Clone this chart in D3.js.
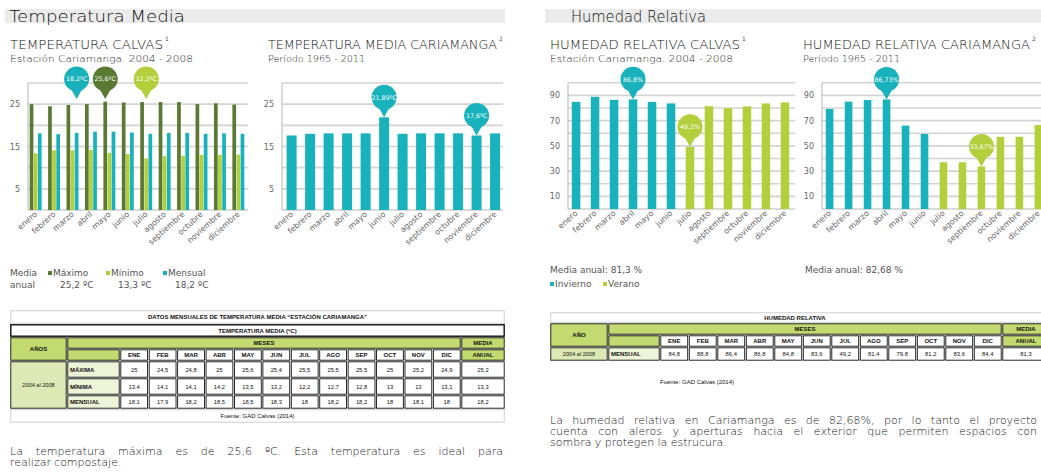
<!DOCTYPE html>
<html>
<head>
<meta charset="utf-8">
<script src="https://cdn.jsdelivr.net/npm/d3@7"></script>
<style>
  body { margin: 0; background: #fff; }
  svg { display: block; }
</style>
</head>
<body>
<svg id="page" width="1041" height="474"></svg>
<script>
// ---- data ----
const months = ["enero","febrero","marzo","abril","mayo","junio","julio","agosto","septiembre","octubre","noviembre","diciembre"];
const monthAbbr = ["ENE","FEB","MAR","ABR","MAY","JUN","JUL","AGO","SEP","OCT","NOV","DIC"];

// Calvas temperature (ºC), 2004-2008
const calvasMax     = [25, 24.5, 24.8, 25, 25.6, 25.4, 25.5, 25.5, 25.5, 25, 25.2, 24.9];
const calvasMin     = [13.4, 14.1, 14.1, 14.2, 13.5, 13.2, 12.2, 12.7, 12.8, 13, 13, 13.1];
const calvasMensual = [18.1, 17.9, 18.2, 18.5, 18.5, 18.3, 18, 18.2, 18.2, 18, 18.1, 18];
const calvasAnual   = [25.2, 13.3, 18.2];   // máximo, mínimo, mensual

// Cariamanga mean temperature (ºC), 1965-2011
const cariamangaTemp = [17.6, 18, 18.1, 18.1, 18.1, 21.89, 18, 18.1, 18.1, 18.1, 17.6, 18.1];

// Relative humidity (%)
const calvasHum      = [84.8, 88.8, 86.4, 86.8, 84.8, 83.6, 49.2, 81.4, 79.8, 81.2, 83.6, 84.4];
const calvasHumAnual = 81.3;
const cariamangaHum  = [79.2, 85, 86.3, 86.73, 66, 59.4, 37, 37, 33.67, 57.2, 57.2, 66.5];
const cariamangaHumAnual = 82.68;

// axis ticks
const tempGrid  = [5, 10, 15, 20, 25, 30];
const tempTicks = [5, 15, 25];
const humGrid   = [10, 20, 30, 40, 50, 60, 70, 80, 90, 100];
const humTicks  = [10, 30, 50, 70, 90];

// ---- styles ----
const FONT = "'DejaVu Sans', sans-serif";
const TFONT = "'Liberation Sans', Arial, sans-serif";
const TEAL = "#17b2bb", DARK = "#5a7a34", LIGHT = "#b3cf3b";
const GRID = "#d3d3d3", AXIS = "#b5b5b5";
const HEAD_GREEN = "#c3da70", PALE_GREEN = "#dde9b4", PALER_GREEN = "#edf4d8";
const THIN = 200;
const fmt = v => String(v).replace(".", ",");

const svg = d3.select("#page").style("font-family", FONT);

// ---- section headers ----
function sectionHeader(x0, x1, textX, title, titleLen) {
  svg.append("rect").attr("x", x0).attr("y", 9).attr("width", x1 - x0).attr("height", 14).attr("fill", "#ebebeb");
  svg.append("text").attr("x", textX).attr("y", 22).attr("font-size", 16).attr("font-weight", THIN).attr("fill", "#111")
    .attr("textLength", titleLen).attr("lengthAdjust", "spacingAndGlyphs").text(title);
}
sectionHeader(5, 505, 9, "Temperatura Media", 176);
sectionHeader(545, 1041, 571, "Humedad Relativa", 135);

// ---- chart titles ----
function chartTitle(x, title, len, sup, sub, subLen) {
  svg.append("text").attr("x", x).attr("y", 49).attr("font-size", 12.5).attr("font-weight", THIN).attr("fill", "#111")
    .attr("textLength", len).attr("lengthAdjust", "spacingAndGlyphs").text(title);
  svg.append("text").attr("x", x + len + 2).attr("y", 41).attr("font-size", 6).attr("fill", "#555").text(sup);
  svg.append("text").attr("x", x).attr("y", 62).attr("font-size", 9.5).attr("font-weight", THIN).attr("fill", "#222")
    .attr("textLength", subLen).attr("lengthAdjust", "spacingAndGlyphs").text(sub);
}
chartTitle(10, "TEMPERATURA CALVAS", 153, "1", "Estación Cariamanga. 2004 - 2008", 183);
chartTitle(268, "TEMPERATURA MEDIA CARIAMANGA", 229, "2", "Período 1965 - 2011", 97);
chartTitle(550, "HUMEDAD RELATIVA CALVAS", 190, "1", "Estación Cariamanga. 2004 - 2008", 183);
chartTitle(803, "HUMEDAD RELATIVA CARIAMANGA", 227, "2", "Período 1965 - 2011", 97);

// ---- shared pieces ----
function frame(g, y, grid, ticks, xLeft, xRight) {
  g.selectAll(".grid").data(grid).join("line").attr("class", "grid")
    .attr("x1", xLeft).attr("x2", xRight).attr("y1", d => y(d)).attr("y2", d => y(d))
    .attr("stroke", GRID).attr("stroke-width", 1.6);
  g.append("line").attr("x1", xLeft).attr("x2", xLeft).attr("y1", y(grid[grid.length - 1])).attr("y2", y(0))
    .attr("stroke", AXIS).attr("stroke-width", 1);
  g.append("line").attr("x1", xLeft).attr("x2", xRight).attr("y1", y(0)).attr("y2", y(0))
    .attr("stroke", AXIS).attr("stroke-width", 1);
  g.selectAll(".tick").data(ticks).join("text").attr("class", "tick")
    .attr("x", xLeft - 8).attr("y", d => y(d) + 3).attr("text-anchor", "end")
    .attr("font-size", 8).attr("fill", "#666").text(d => d);
}

function monthLabels(g, xc, y0) {
  g.selectAll(".mlab").data(months).join("text").attr("class", "mlab")
    .attr("transform", (d, i) => `translate(${xc(i) + 2},${y0}) rotate(-42)`)
    .attr("text-anchor", "end").attr("font-size", 8).attr("fill", "#666").text(d => d);
}

function bubble(g, cx, tipY, color, label) {
  const r = 12.5, cy = tipY - 20;
  g.append("path").attr("d", `M${cx - 7},${cy + r - 5} L${cx},${tipY} L${cx + 7},${cy + r - 5} Z`).attr("fill", color);
  g.append("circle").attr("cx", cx).attr("cy", cy).attr("r", r).attr("fill", color);
  g.append("text").attr("x", cx).attr("y", cy + 2.3).attr("text-anchor", "middle")
    .attr("font-size", 6.3).attr("fill", "#fff").text(label);
}

// ---- chart 1: Temperatura Calvas (grouped bars) ----
{
  const g = svg.append("g");
  const y = d3.scaleLinear().domain([0, 30]).range([210, 83]);
  const x0 = d3.scaleBand().domain(d3.range(12)).range([28, 246]).paddingInner(0.33).paddingOuter(0.08);
  const keys = ["max", "min", "mensual"];
  const colors = { max: DARK, min: LIGHT, mensual: TEAL };
  const x1 = d3.scaleBand().domain(keys).range([0, x0.bandwidth()]);
  const rows = months.map((m, i) => ({ i, max: calvasMax[i], min: calvasMin[i], mensual: calvasMensual[i] }));
  frame(g, y, tempGrid, tempTicks, 28, 248);
  g.selectAll(".grp").data(rows).join("g").attr("class", "grp")
    .attr("transform", d => `translate(${x0(d.i)},0)`)
    .selectAll("rect").data(d => keys.map(k => ({ k, v: d[k] }))).join("rect")
    .attr("x", d => x1(d.k) + 0.2).attr("width", x1.bandwidth() - 0.4)
    .attr("y", d => y(d.v)).attr("height", d => y(0) - y(d.v)).attr("fill", d => colors[d.k]);
  monthLabels(g, i => x0(i) + x0.bandwidth() / 2, 215);
  const tipY = y(30) + 16;
  const notes = [["mensual", 2, calvasMensual], ["max", 4, calvasMax], ["min", 6, calvasMin]];
  notes.forEach(([k, i, arr]) => bubble(g, x0(i) + x1(k) + x1.bandwidth() / 2, tipY, colors[k], fmt(arr[i]) + "ºC"));

  // legend
  const lg = svg.append("g").attr("font-size", 9).attr("fill", "#555");
  lg.append("text").attr("x", 10).attr("y", 276).text("Media");
  lg.append("text").attr("x", 10).attr("y", 288).text("anual");
  const items = [["Máximo", DARK, 48], ["Mínimo", LIGHT, 106], ["Mensual", TEAL, 163]];
  items.forEach(([name, c, lx], j) => {
    lg.append("rect").attr("x", lx).attr("y", 271).attr("width", 4).attr("height", 4).attr("fill", c);
    lg.append("text").attr("x", lx + 5).attr("y", 276).text(name);
    lg.append("text").attr("x", lx + 12).attr("y", 288).text(fmt(calvasAnual[j]) + " ºC");
  });
}

// ---- chart 2: Temperatura media Cariamanga ----
{
  const g = svg.append("g");
  const y = d3.scaleLinear().domain([0, 30]).range([210, 83]);
  const x = d3.scaleBand().domain(d3.range(12)).range([282, 504.7]).paddingInner(0.46).paddingOuter(0.25);
  frame(g, y, tempGrid, tempTicks, 282, 503);
  g.selectAll(".bar").data(cariamangaTemp).join("rect").attr("class", "bar")
    .attr("x", (d, i) => x(i)).attr("width", x.bandwidth())
    .attr("y", d => y(d)).attr("height", d => y(0) - y(d)).attr("fill", TEAL);
  monthLabels(g, i => x(i) + x.bandwidth() / 2, 215);
  [5, 10].forEach(i => bubble(g, x(i) + x.bandwidth() / 2, y(cariamangaTemp[i]), TEAL, fmt(cariamangaTemp[i]) + "ºC"));
}

// ---- chart 3: Humedad relativa Calvas ----
{
  const g = svg.append("g");
  const y = d3.scaleLinear().domain([0, 100]).range([209, 82.7]);
  const x = d3.scaleBand().domain(d3.range(12)).range([568, 793]).paddingInner(0.55).paddingOuter(0.2);
  frame(g, y, humGrid, humTicks, 568, 795);
  g.selectAll(".bar").data(calvasHum).join("rect").attr("class", "bar")
    .attr("x", (d, i) => x(i)).attr("width", x.bandwidth())
    .attr("y", d => y(d)).attr("height", d => y(0) - y(d)).attr("fill", (d, i) => i < 6 ? TEAL : LIGHT);
  monthLabels(g, i => x(i) + x.bandwidth() / 2, 214);
  [3, 6].forEach(i => bubble(g, x(i) + x.bandwidth() / 2, y(calvasHum[i]), i < 6 ? TEAL : LIGHT, fmt(calvasHum[i]) + "%"));
  const lg = svg.append("g").attr("font-size", 9).attr("fill", "#555");
  lg.append("text").attr("x", 550).attr("y", 273).text("Media anual: " + fmt(calvasHumAnual) + " %");
  lg.append("rect").attr("x", 550).attr("y", 282).attr("width", 4).attr("height", 4).attr("fill", TEAL);
  lg.append("text").attr("x", 555).attr("y", 287).text("Invierno");
  lg.append("rect").attr("x", 603).attr("y", 282).attr("width", 4).attr("height", 4).attr("fill", LIGHT);
  lg.append("text").attr("x", 608).attr("y", 287).text("Verano");
}

// ---- chart 4: Humedad relativa Cariamanga ----
{
  const g = svg.append("g");
  const y = d3.scaleLinear().domain([0, 100]).range([209, 82.7]);
  const x = d3.scaleBand().domain(d3.range(12)).range([822, 1046]).paddingInner(0.6).paddingOuter(0.2);
  frame(g, y, humGrid, humTicks, 822, 1041);
  g.selectAll(".bar").data(cariamangaHum).join("rect").attr("class", "bar")
    .attr("x", (d, i) => x(i)).attr("width", x.bandwidth())
    .attr("y", d => y(d)).attr("height", d => y(0) - y(d)).attr("fill", (d, i) => i < 6 ? TEAL : LIGHT);
  monthLabels(g, i => x(i) + x.bandwidth() / 2, 214);
  [3, 8].forEach(i => bubble(g, x(i) + x.bandwidth() / 2, y(cariamangaHum[i]), i < 6 ? TEAL : LIGHT, fmt(cariamangaHum[i]) + "%"));
  svg.append("text").attr("x", 805).attr("y", 273).attr("font-size", 9).attr("fill", "#555")
    .text("Media anual: " + fmt(cariamangaHumAnual) + " %");
}

// ---- tables ----
function cell(g, x0, x1, y0, y1, fill, label, opt = {}) {
  g.append("rect").attr("x", x0 + 0.8).attr("y", y0 + 0.8).attr("width", x1 - x0 - 1.6).attr("height", y1 - y0 - 1.6)
    .attr("fill", fill).attr("stroke", opt.stroke || "#111").attr("stroke-width", opt.sw || 0.9);
  if (label !== undefined && label !== "") {
    g.append("text").attr("x", opt.left ? x0 + 3 : (x0 + x1) / 2).attr("y", (y0 + y1) / 2 + 2.1)
      .attr("text-anchor", opt.left ? "start" : "middle").attr("font-family", TFONT)
      .attr("font-size", opt.size || 6).attr("font-weight", opt.normal ? "normal" : "bold")
      .attr("fill", "#111").text(label);
  }
}

// Table 1: monthly temperature data
{
  const g = svg.append("g");
  const left = 10, right = 505, c1 = 67, c2 = 120, c3 = 461;
  const step = (c3 - c2) / 12;
  const mx = i => c2 + i * step;
  cell(g, left, right, 310, 324, "#fff", "DATOS MENSUALES DE TEMPERATURA MEDIA “ESTACIÓN CARIAMANGA”", { stroke: "#c8c8c8" });
  cell(g, left, right, 324, 337, "#fff", "TEMPERATURA MEDIA (ºC)", { sw: 1.4 });
  cell(g, left, c1, 337, 361, HEAD_GREEN, "AÑOS");
  cell(g, c1, c3, 337, 349, HEAD_GREEN, "MESES");
  cell(g, c3, right, 337, 349, HEAD_GREEN, "MEDIA");
  cell(g, c1, c2, 349, 361, HEAD_GREEN, "");
  monthAbbr.forEach((m, i) => cell(g, mx(i), mx(i + 1), 349, 361, "#fff", m));
  cell(g, c3, right, 349, 361, HEAD_GREEN, "ANUAL");
  cell(g, left, c1, 361, 409, PALE_GREEN, "2004 al 2008", { size: 5.6, normal: true });
  const rows = [["MÁXIMA", calvasMax, calvasAnual[0], 361, 378],
                ["MÍNIMA", calvasMin, calvasAnual[1], 378, 395],
                ["MENSUAL", calvasMensual, calvasAnual[2], 395, 409]];
  rows.forEach(([name, vals, an, y0, y1]) => {
    cell(g, c1, c2, y0, y1, PALER_GREEN, name, { left: true });
    vals.forEach((v, i) => cell(g, mx(i), mx(i + 1), y0, y1, "#fff", fmt(v), { normal: true, size: 5.8 }));
    cell(g, c3, right, y0, y1, "#fff", fmt(an), { normal: true, size: 5.8 });
  });
  cell(g, left, right, 409, 423, "#fff", "Fuente: GAD Calvas (2014)", { stroke: "#c8c8c8", normal: true, size: 6 });
}

// Table 2: monthly relative humidity
{
  const g = svg.append("g");
  const left = 550, right = 1050, c1 = 608, c2 = 660, c3 = 1002;
  const step = (c3 - c2) / 12;
  const mx = i => c2 + i * step;
  cell(g, left, right, 312, 323, "#fff", "", { stroke: "#c8c8c8" });
  g.append("text").attr("x", 795).attr("y", 319.6).attr("text-anchor", "middle").attr("font-family", TFONT)
    .attr("font-size", 6).attr("font-weight", "bold").attr("fill", "#111").text("HUMEDAD RELATIVA");
  cell(g, left, c1, 323, 347, HEAD_GREEN, "AÑO");
  cell(g, c1, c3, 323, 335, HEAD_GREEN, "MESES");
  cell(g, c3, right, 323, 335, HEAD_GREEN, "MEDIA");
  cell(g, c1, c2, 335, 347, HEAD_GREEN, "");
  monthAbbr.forEach((m, i) => cell(g, mx(i), mx(i + 1), 335, 347, "#fff", m));
  cell(g, c3, right, 335, 347, HEAD_GREEN, "ANUAL");
  cell(g, left, c1, 347, 361, PALE_GREEN, "2004 al 2008", { size: 5.6, normal: true });
  cell(g, c1, c2, 347, 361, PALER_GREEN, "MENSUAL", { left: true });
  calvasHum.forEach((v, i) => cell(g, mx(i), mx(i + 1), 347, 361, "#fff", fmt(v), { normal: true, size: 5.8 }));
  cell(g, c3, right, 347, 361, "#fff", fmt(calvasHumAnual), { normal: true, size: 5.8 });
  g.append("text").attr("x", 697).attr("y", 384).attr("text-anchor", "middle").attr("font-family", TFONT)
    .attr("font-size", 6).attr("fill", "#111").text("Fuente: GAD Calvas (2014)");
}

// ---- paragraphs ----
function line(x, y, width, str, justify) {
  const t = svg.append("text").attr("y", y).attr("font-size", 11).attr("font-weight", THIN).attr("fill", "#111");
  const words = str.split(" ");
  const spans = words.map(w => t.append("tspan").text(w));
  const widths = spans.map(s => s.node().getComputedTextLength());
  const gap = justify ? (width - d3.sum(widths)) / (words.length - 1) : 3.4;
  let cx = x;
  spans.forEach((s, i) => { s.attr("x", cx); cx += widths[i] + gap; });
}
line(10, 455, 493, "La temperatura máxima es de 25,6 ºC. Esta temperatura es ideal para", true);
line(10, 466, 0, "realizar compostaje.", false);
line(550, 424, 487, "La humedad relativa en Cariamanga es de 82,68%, por lo tanto el proyecto", true);
line(550, 435, 487, "cuenta con aleros y aperturas hacia el exterior que permiten espacios con", true);
line(550, 446, 0, "sombra y protegen la estrucura.", false);
</script>
</body>
</html>
